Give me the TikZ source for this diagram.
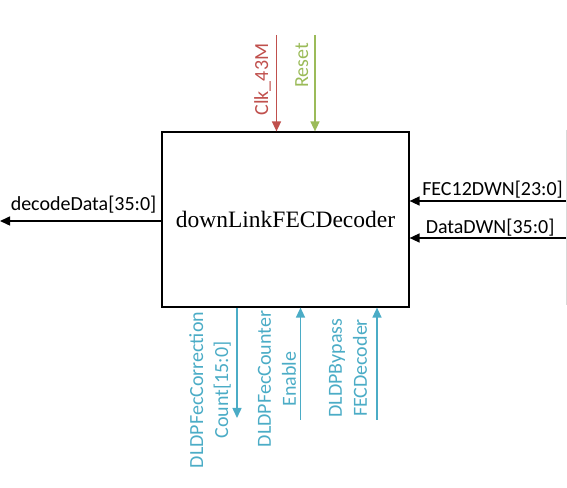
\documentclass[tikz,border=0pt]{standalone}
\usepackage{fontspec}
\setmainfont{Liberation Serif}
\setsansfont{Carlito}
\usetikzlibrary{positioning,arrows.meta}
\definecolor{clkred}{HTML}{C0504D}
\definecolor{rstgreen}{HTML}{9BBB59}
\definecolor{dlcyan}{HTML}{4BACC6}
\begin{document}
\begin{tikzpicture}[x=1pt, y=1pt, -{Triangle[length=10pt,width=9pt]}, line width=1.5pt,
    main node/.style={draw, line width=1.2pt, minimum width=247pt, minimum height=175pt, inner sep=0pt, font=\fontsize{23.5}{28}\selectfont},
    sig label/.style={font=\sffamily\fontsize{20}{25}\selectfont, inner sep=0pt},
    vert label/.style={sig label, rotate=90, align=center}]
            \useasboundingbox (0,0) rectangle (567,487);

              \node[main node] (dec) at (285.5,267.5) {downLinkFECDecoder};

              % free ends of the signals
              \coordinate (clk) at (276.5,452);
              \coordinate (rst) at (315,452);
              \coordinate (fec) at (567,286);
              \coordinate (din) at (567,249);
              \coordinate (dout) at (0,266);
              \coordinate (cnt) at (237,69);
              \coordinate (cen) at (300.5,67);
              \coordinate (byp) at (377,67);
              \coordinate (edgetop) at (566,357);
              \coordinate (edgebot) at (566,182);

              % signal names
              \node[vert label, text=clkred, anchor=base east] (clklbl) at (268,444) {Clk\_43M};
              \node[vert label, text=rstgreen, anchor=base east] (rstlbl) at (308,445) {Reset};
              \node[sig label, anchor=base west] (feclbl) at (421.5,291) {FEC12DWN[23:0]};
              \node[sig label, anchor=base west] (dinlbl) at (425,253) {DataDWN[35:0]};
              \node[sig label, anchor=base west] (doutlbl) at (10,276) {decodeData[35:0]};
              \node[vert label, text=dlcyan] (cntlbl) at (210,97) {DLDPFecCorrection\\Count[15:0]};
              \node[vert label, text=dlcyan] (cenlbl) at (277,108) {DLDPFecCounter\\Enable};
              \node[vert label, text=dlcyan] (byplbl) at (348,119) {DLDPBypass\\FECDecoder};

              \path (clk) edge[clkred] (clk |- dec.north)
                    (rst) edge[rstgreen] (rst |- dec.north)
                    (fec) edge (fec -| dec.east)
                    (din) edge (din -| dec.east)
                    (dout -| dec.west) edge (dout)
                    (cnt |- dec.south) edge[dlcyan] (cnt)
                    (cen) edge[dlcyan] (cen |- dec.south)
                    (byp) edge[dlcyan] (byp |- dec.south);

              \draw[-, line width=0.8pt, black!15] (edgetop) -- (edgebot);
\end{tikzpicture}
\end{document}
